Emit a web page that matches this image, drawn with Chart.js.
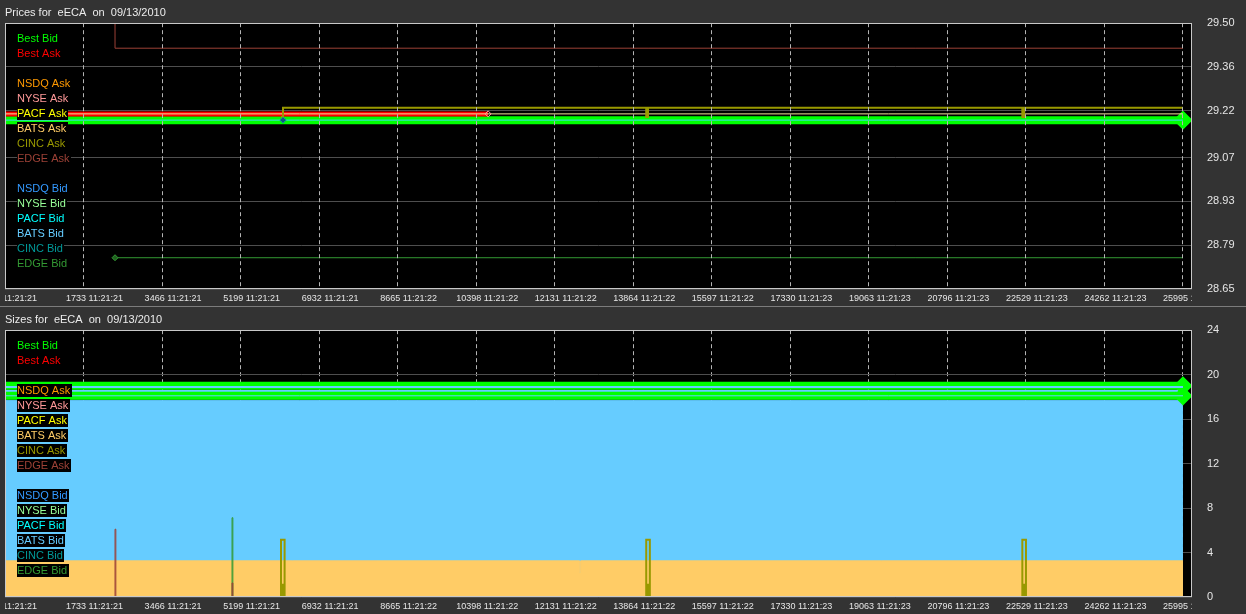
<!DOCTYPE html>
<html>
<head>
<meta charset="utf-8">
<script src="https://cdn.jsdelivr.net/npm/chart.js@4.4.1/dist/chart.umd.min.js"></script>
<style>
    html, body { margin: 0; padding: 0; background: #333333; }
    #wrap { position: relative; width: 1246px; height: 614px; overflow: hidden; }
    #prices { position: absolute; left: 0; top: 0; }
    #sizes { position: absolute; left: 0; top: 307px; }
    .sep { position: absolute; left: 0; top: 306px; width: 1246px; height: 1px; background: #7c7c7c; }
</style>
</head>
<body>
<div id="wrap">
    <canvas id="prices" width="1246" height="306"></canvas>
    <div class="sep"></div>
    <canvas id="sizes" width="1246" height="307"></canvas>
</div>
<script>
// ticks on the time axis (sequence number + clock)
const tickTimes = [0, 1733, 3466, 5199, 6932, 8665, 10398, 12131, 13864, 15597, 17330, 19063, 20796, 22529, 24262, 25995];
const tickClock = ['11:21:21', '11:21:21', '11:21:21', '11:21:21', '11:21:21', '11:21:22', '11:21:22', '11:21:22',
                   '11:21:22', '11:21:22', '11:21:23', '11:21:23', '11:21:23', '11:21:23', '11:21:23', '11:21:23'];
const timeMax = 26194;
const priceTicks = [28.65, 28.79, 28.93, 29.07, 29.22, 29.36, 29.50];
const sizeTicks = [0, 4, 8, 12, 16, 20, 24];

const legendRows = ['Best Bid', 'Best Ask', '',
    'NSDQ Ask', 'NYSE Ask', 'PACF Ask', 'BATS Ask', 'CINC Ask', 'EDGE Ask', '',
    'NSDQ Bid', 'NYSE Bid', 'PACF Bid', 'BATS Bid', 'CINC Bid', 'EDGE Bid'];
const seriesColors = {
    'Best Bid': '#00ff00', 'Best Ask': '#ff0000',
    'NSDQ Ask': '#ff9900', 'NYSE Ask': '#ff9999', 'PACF Ask': '#ffff00',
    'BATS Ask': '#ffcc66', 'CINC Ask': '#999900', 'EDGE Ask': '#9c4136',
    'NSDQ Bid': '#3399ff', 'NYSE Bid': '#99ff99', 'PACF Bid': '#00ffff',
    'BATS Bid': '#66ccff', 'CINC Bid': '#009999', 'EDGE Bid': '#339933'
};

// prices, [sequence, price]; each value holds until the next point
const bestBidPx = [[0, 29.19], [25995, 29.19]];
const bestAskPx = [[0, 29.21], [10660, 29.21]];
const batsAskPx = [[0, 29.21], [25995, 29.21]];
const pacfBidPx = [[0, 29.19], [25995, 29.19]];
const cincAskPx = [[6091, 29.20], [6135, 29.23], [14150, 29.20], [14190, 29.23], [22450, 29.20], [22490, 29.23], [25995, 29.23]];
const cincBidPx = [[6135, 29.19]];
const nyseAskPx = [[10660, 29.21]];
const edgeAskPx = [[0, 29.60], [2428, 29.42], [25995, 29.42]];
const edgeBidPx = [[2428, 28.75], [25995, 28.75]];

// sizes, [sequence, size]
const bestBidSz = [[0, 19.0], [25995, 19.0]];
const bestBid2Sz = [[0, 18.1], [25995, 18.1]];
const batsBidLineSz = [[0, 18.9], [25995, 18.9]];
const batsBidGapSz = [[0, 18.5], [25995, 18.5]];
const batsBidLine2Sz = [[0, 18.1], [25995, 18.1]];
const batsBidSz = [[0, 17.7], [25995, 17.7]];
const batsAskSz = [[0, 3.25], [12680, 2.17], [12702, 3.25], [25995, 3.25]];
const edgeAskSz = [[2410, 0], [2428, 6.1], [2446, 0], [2460, null], [4992, 0], [5010, 1.26], [5028, 0]];
const edgeBidSz = [[4992, 0], [5010, 7.13], [5028, 0]];
const cincAskSz = [[6070, 0], [6091, 5.14], [6170, 0], [6190, null],
                   [14130, 0], [14150, 5.14], [14230, 0], [14250, null],
                   [22430, 0], [22450, 5.14], [22530, 0]];
const cincBidSz = [[6091, 1.2], [6170, 0], [6190, null], [14150, 1.2], [14230, 0], [14250, null], [22450, 1.2], [22530, 0]];

const FONT = '"Liberation Sans", Arial, sans-serif';

function series(name, pts, extra) {
    return Object.assign({
        label: name,
        data: pts.map(p => ({ x: p[0], y: p[1] })),
        borderColor: seriesColors[name],
        backgroundColor: seriesColors[name],
        borderWidth: 1,
        stepped: 'before',
        pointRadius: 0,
        fill: false
    }, extra || {});
}

// marker only on the last point of a line
const lastPoint = r => ctx => ctx.dataIndex === ctx.dataset.data.length - 1 ? r : 0;

// text list of all quote sources on the left of the plot
const quoteLegend = {
    id: 'quoteLegend',
    afterDatasetsDraw(chart) {
        const ctx = chart.ctx, a = chart.chartArea;
        ctx.save();
        ctx.font = '11px ' + FONT;
        ctx.textBaseline = 'middle';
        legendRows.forEach((name, i) => {
            if (!name) return;
            const y = Math.round(a.top + 15 * (i + 1));
            const w = ctx.measureText(name).width;
            ctx.fillStyle = '#000000';
            ctx.fillRect(a.left + 12, y - 6, Math.ceil(w) + 1, 13);
            ctx.fillStyle = seriesColors[name];
            ctx.fillText(name, a.left + 12, y + 0.5);
        });
        ctx.restore();
    }
};

// black plot, x labels cut at the plot edges, light frame
const plotFrame = {
    id: 'plotFrame',
    beforeDraw(chart) {
        const ctx = chart.ctx, a = chart.chartArea;
        ctx.save();
        ctx.fillStyle = '#000000';
        ctx.fillRect(a.left, a.top, a.right - a.left, a.bottom - a.top);
        ctx.restore();

        const sc = chart.scales.x;
        if (sc._clipped) return;
        const orig = sc.drawLabels.bind(sc);
        sc.drawLabels = function (area) {
            const c = chart.ctx, ar = chart.chartArea;
            c.save();
            c.beginPath();
            c.rect(ar.left, 0, ar.right - ar.left, chart.height);
            c.clip();
            orig(area);
            c.restore();
        };
        sc._clipped = true;
    },
    afterDraw(chart) {
        const ctx = chart.ctx, a = chart.chartArea;
        ctx.save();
        ctx.strokeStyle = '#c8c8c8';
        ctx.lineWidth = 1;
        ctx.strokeRect(Math.round(a.left) + 0.5, Math.round(a.top) + 0.5,
            Math.round(a.right - a.left) - 1, Math.round(a.bottom - a.top) - 1);
        ctx.restore();
    }
};

function makeOptions(title, yMin, yMax, yTicks, fmt, gridOnTop) {
    return {
        responsive: false,
        animation: false,
        events: [],
        layout: { autoPadding: false, padding: { left: 5, right: 0, top: 0, bottom: 0 } },
        plugins: {
            legend: { display: false },
            tooltip: { enabled: false },
            title: {
                display: true, text: title, align: 'start', color: '#ececec',
                font: { family: FONT, size: 11, weight: 'normal' }, padding: { top: 6, bottom: 4 }
            }
        },
        scales: {
            x: {
                type: 'linear', min: 0, max: timeMax,
                grid: { color: '#b4b4b4', lineWidth: 1, drawTicks: false, z: gridOnTop ? 1 : -1 },
                border: { display: false, dash: [4, 3] },
                afterBuildTicks: sc => { sc.ticks = tickTimes.map(v => ({ value: v })); },
                afterFit: sc => { sc.height = 17; sc.paddingLeft = 0; sc.paddingRight = 0; },
                ticks: {
                    autoSkip: false, maxRotation: 0, padding: 4, labelOffset: 11,
                    color: '#e6e6e6', font: { family: FONT, size: 9 },
                    callback: (v, i) => v + ' ' + tickClock[i]
                }
            },
            y: {
                position: 'right', min: yMin, max: yMax,
                grid: { color: '#4e4e4e', lineWidth: 1, drawTicks: false },
                border: { display: false },
                afterBuildTicks: sc => { sc.ticks = yTicks.map(v => ({ value: v })); },
                afterFit: sc => { sc.width = 54; sc.paddingTop = 0; sc.paddingBottom = 0; },
                ticks: {
                    padding: 15, color: '#e6e6e6', font: { family: FONT, size: 11 },
                    callback: fmt
                }
            }
        }
    };
}

new Chart(document.getElementById('prices'), {
    type: 'line',
    data: {
        datasets: [
            series('NYSE Ask', nyseAskPx, { pointRadius: 3, pointStyle: 'rectRot', pointBackgroundColor: 'rgba(0,0,0,0)', pointBorderColor: '#ff9999' }),
            series('CINC Bid', cincBidPx, { pointRadius: 3, pointStyle: 'rectRot', pointBackgroundColor: '#0c5c7c', pointBorderColor: '#1b7fa8' }),
            series('CINC Ask', cincAskPx, { borderWidth: 2 }),
            series('PACF Bid', pacfBidPx, { borderColor: '#40d8f0' }),
            series('BATS Ask', batsAskPx, { borderColor: '#f4e49a' }),
            series('Best Ask', bestAskPx, { borderWidth: 5 }),
            series('Best Bid', bestBidPx, { borderWidth: 8, pointStyle: 'rectRot', pointRadius: lastPoint(4) }),
            series('EDGE Ask', edgeAskPx),
            series('EDGE Bid', edgeBidPx, { pointStyle: 'rectRot', pointRadius: ctx => ctx.dataIndex === 0 ? 3 : 0, pointBackgroundColor: '#1f5f1f' })
        ]
    },
    options: makeOptions('Prices for  eECA  on  09/13/2010', 28.65, 29.50, priceTicks, v => v.toFixed(2), true),
    plugins: [quoteLegend, plotFrame]
});

new Chart(document.getElementById('sizes'), {
    type: 'line',
    data: {
        datasets: [
            series('EDGE Ask', edgeAskSz),
            series('EDGE Bid', edgeBidSz),
            series('CINC Ask', cincAskSz, { borderWidth: 2 }),
            series('CINC Bid', cincBidSz, { borderColor: '#999900', backgroundColor: '#999900', fill: 'origin', borderWidth: 0 }),
            series('BATS Bid', batsBidLine2Sz),
            series('BATS Bid', batsBidLineSz, { borderWidth: 2 }),
            series('Best Bid', bestBidSz, { borderWidth: 8, pointStyle: 'rectRot', pointRadius: lastPoint(4) }),
            series('Best Bid', bestBid2Sz, { borderWidth: 8, pointStyle: 'rectRot', pointRadius: lastPoint(4) }),
            series('BATS Bid', batsBidGapSz, { borderWidth: 3 }),
            series('BATS Ask', batsAskSz, { fill: 'origin' }),
            series('BATS Bid', batsBidSz, { fill: 'origin' })
        ]
    },
    options: makeOptions('Sizes for  eECA  on  09/13/2010', 0, 24, sizeTicks, v => String(v), false),
    plugins: [quoteLegend, plotFrame]
});
</script>
</body>
</html>
